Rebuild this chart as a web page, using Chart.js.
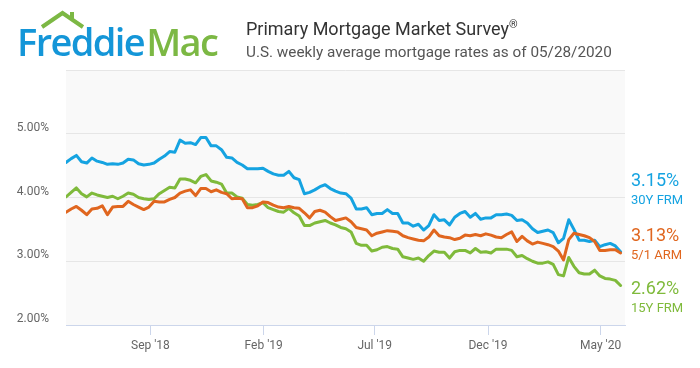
<!DOCTYPE html>
<html lang="en">
<head>
<meta charset="UTF-8">
<title>Primary Mortgage Market Survey</title>
<script src="https://cdn.jsdelivr.net/npm/chart.js"></script>
<style>
  body { margin: 0; background: #fff; }
  .quadro { position: relative; width: 700px; height: 368px; overflow: hidden; font-family: Roboto, sans-serif; }
  #grafico { position: absolute; left: 0; top: 0; }
  .logo { position: absolute; left: 17px; top: 22px; font-family: "Open Sans", sans-serif; font-weight: 600;
          font-size: 38px; line-height: 1; letter-spacing: -1.6px; white-space: nowrap; }
  .logo .fred { color: #1496d8; }
  .logo .mac { color: #7cb844; margin-left: 2px; }
  .telhado { position: absolute; left: 38px; top: 8px; }
  .titulo { position: absolute; left: 246px; top: 20px; font-size: 18px; line-height: 1; color: #333; white-space: nowrap; }
  .titulo sup { font-size: 11px; vertical-align: 7px; line-height: 0; }
  .subtitulo { position: absolute; left: 246px; top: 45px; font-size: 15.3px; line-height: 1; color: #555; white-space: nowrap; }
  .rotulo { position: absolute; left: 631px; line-height: 1; white-space: nowrap; }
  .rotulo .valor { font-size: 18px; display: block; }
  .rotulo .nome { font-size: 13px; display: block; margin-top: 4px; }
</style>
</head>
<body>
<div class="quadro">
  <canvas id="grafico" width="700" height="368"></canvas>

  <svg class="telhado" width="52" height="24" viewBox="0 0 52 24">
    <polyline points="4,19 24.5,5 45,19" fill="none" stroke="#7cb844" stroke-width="4" stroke-linejoin="miter"/>
    <rect x="32" y="4" width="4" height="8" fill="#7cb844"/>
  </svg>
  <div class="logo"><span class="fred">Freddie</span><span class="mac">Mac</span></div>

  <div class="titulo">Primary Mortgage Market Survey<sup>®</sup></div>
  <div class="subtitulo">U.S. weekly average mortgage rates as of 05/28/2020</div>

  <div class="rotulo" style="top:171px; color:#15a3e1"><span class="valor">3.15%</span><span class="nome">30Y FRM</span></div>
  <div class="rotulo" style="top:226px; color:#e0661f"><span class="valor">3.13%</span><span class="nome">5/1 ARM</span></div>
  <div class="rotulo" style="top:279px; color:#7fba3b"><span class="valor">2.62%</span><span class="nome">15Y FRM</span></div>
</div>

<script>
// semanas: primeira quinta-feira da série, depois uma leitura por semana
const primeiraSemana = '2018-05-10';

const taxa30 = [
  4.55, 4.61, 4.66, 4.56, 4.54, 4.62, 4.57, 4.55, 4.52, 4.53, 4.52, 4.54,
  4.60, 4.59, 4.53, 4.51, 4.52, 4.54, 4.60, 4.65, 4.72, 4.71, 4.90, 4.85,
  4.86, 4.83, 4.94, 4.94, 4.81, 4.81, 4.75, 4.63, 4.62, 4.55,
  4.51, 4.45, 4.45, 4.45, 4.46, 4.41, 4.37, 4.35, 4.35, 4.41, 4.31, 4.28,
  4.06, 4.08, 4.12, 4.17, 4.20, 4.14, 4.10, 4.07, 4.06, 3.99, 3.82, 3.82,
  3.84, 3.73, 3.75, 3.75, 3.81, 3.75, 3.75, 3.60, 3.60, 3.55, 3.58, 3.49,
  3.56, 3.73, 3.64, 3.65, 3.57, 3.69, 3.75, 3.78, 3.69, 3.75, 3.66, 3.68,
  3.68, 3.73, 3.73, 3.74,
  3.72, 3.64, 3.65, 3.60, 3.51, 3.45, 3.47, 3.49, 3.45, 3.29, 3.36, 3.65,
  3.50, 3.33, 3.33, 3.31, 3.33, 3.23, 3.26, 3.28, 3.24, 3.15
];

const taxa15 = [
  4.01, 4.08, 4.15, 4.06, 4.01, 4.07, 4.04, 4.02, 4.00, 4.02, 3.98, 4.02,
  4.07, 4.05, 4.00, 3.98, 3.97, 3.98, 4.06, 4.11, 4.16, 4.15, 4.29, 4.29,
  4.27, 4.23, 4.33, 4.36, 4.26, 4.24, 4.21, 4.07, 4.07, 4.01,
  3.99, 3.89, 3.88, 3.89, 3.92, 3.84, 3.81, 3.78, 3.77, 3.83, 3.76, 3.71,
  3.56, 3.56, 3.60, 3.62, 3.64, 3.60, 3.57, 3.53, 3.51, 3.46, 3.28, 3.25,
  3.25, 3.16, 3.18, 3.22, 3.23, 3.20, 3.19, 3.07, 3.05, 3.03, 3.05, 3.00,
  3.09, 3.16, 3.14, 3.14, 3.05, 3.15, 3.17, 3.17, 3.13, 3.20, 3.14, 3.15,
  3.13, 3.19, 3.19, 3.19,
  3.17, 3.07, 3.09, 3.04, 3.00, 2.97, 2.97, 2.99, 2.95, 2.79, 2.77, 3.06,
  2.92, 2.82, 2.80, 2.80, 2.86, 2.77, 2.73, 2.72, 2.70, 2.62
];

const taxaArm = [
  3.77, 3.82, 3.86, 3.80, 3.73, 3.82, 3.83, 3.87, 3.73, 3.85, 3.86, 3.86,
  3.94, 3.89, 3.85, 3.81, 3.85, 3.94, 3.93, 3.93, 3.97, 4.00, 4.07, 4.10,
  4.12, 4.03, 4.14, 4.14, 4.09, 4.12, 4.08, 4.06, 3.98, 3.99,
  3.98, 3.84, 3.84, 3.87, 3.93, 3.92, 3.88, 3.85, 3.84, 3.86, 3.84, 3.83,
  3.76, 3.68, 3.78, 3.80, 3.77, 3.70, 3.64, 3.66, 3.68, 3.62, 3.53, 3.51,
  3.49, 3.40, 3.44, 3.46, 3.48, 3.47, 3.46, 3.40, 3.37, 3.35, 3.33, 3.32,
  3.38, 3.49, 3.40, 3.38, 3.37, 3.34, 3.36, 3.41, 3.40, 3.42, 3.40, 3.43,
  3.41, 3.38, 3.37, 3.42,
  3.46, 3.31, 3.39, 3.32, 3.27, 3.30, 3.28, 3.26, 3.23, 3.16, 3.02, 3.34,
  3.44, 3.42, 3.40, 3.37, 3.31, 3.17, 3.17, 3.18, 3.18, 3.13
];

const datasMarcas = ['2018-09-01', '2019-02-01', '2019-07-01', '2019-12-01', '2020-05-01'];
const rotulosX = ["Sep '18", "Feb '19", "Jul '19", "Dec '19", "May '20"];
const marcasY = [2, 3, 4, 5, 6];

const umDia = 86400000;
function diasDesde(data) {
  return (Date.parse(data) - Date.parse(primeiraSemana)) / umDia;
}
function pontos(serie) {
  return serie.map(function (v, i) { return { x: i * 7, y: v }; });
}

// fundo cinza claro da área do gráfico
const fundoPlot = {
  id: 'fundoPlot',
  beforeDraw(chart) {
    const a = chart.chartArea;
    const ctx = chart.ctx;
    ctx.save();
    ctx.fillStyle = '#f9f9f9';
    ctx.fillRect(a.left, a.top, a.right - a.left, a.bottom - a.top);
    ctx.restore();
  }
};

const linha = { borderWidth: 3, pointRadius: 0, pointHoverRadius: 0, tension: 0,
                borderJoinStyle: 'round', borderCapStyle: 'round', fill: false };

const grafico = new Chart(document.getElementById('grafico'), {
  type: 'line',
  data: {
    datasets: [
      Object.assign({ label: '5/1 ARM', data: pontos(taxaArm), borderColor: '#e0661f', order: 0 }, linha),
      Object.assign({ label: '30Y FRM', data: pontos(taxa30), borderColor: '#15a3e1', order: 1 }, linha),
      Object.assign({ label: '15Y FRM', data: pontos(taxa15), borderColor: '#7fba3b', order: 2 }, linha)
    ]
  },
  options: {
    responsive: false,
    animation: false,
    devicePixelRatio: 1,
    layout: { padding: { top: 70, right: 75, left: 0, bottom: 0 } },
    plugins: { legend: { display: false }, tooltip: { enabled: false } },
    scales: {
      x: {
        type: 'linear',
        min: 0,
        max: 755,
        afterBuildTicks(scale) {
          scale.ticks = datasMarcas.map(function (d) { return { value: diasDesde(d) }; });
        },
        afterFit(scale) { scale.height = 43; },
        grid: { drawOnChartArea: false, drawTicks: true, tickLength: 10, color: '#ccd6eb' },
        border: { color: '#ccd6eb', width: 1 },
        ticks: {
          autoSkip: false, maxRotation: 0, padding: 4, color: '#666',
          font: { family: 'Roboto', size: 12 },
          callback: function (v, i) { return rotulosX[i]; }
        }
      },
      y: {
        min: 2,
        max: 6,
        afterBuildTicks(scale) {
          scale.ticks = marcasY.map(function (v) { return { value: v }; });
        },
        afterFit(scale) { scale.width = 66; },
        grid: {
          drawTicks: false,
          color: function (c) { return c.tick && c.tick.value === 2 ? 'rgba(0,0,0,0)' : '#e6e6e6'; }
        },
        border: { display: false },
        ticks: {
          padding: 17, labelOffset: -6, color: '#666',
          font: { family: 'Roboto', size: 12 },
          callback: function (v) { return v === 6 ? '' : v.toFixed(2) + '%'; }
        }
      }
    }
  },
  plugins: [fundoPlot]
});
</script>
</body>
</html>
